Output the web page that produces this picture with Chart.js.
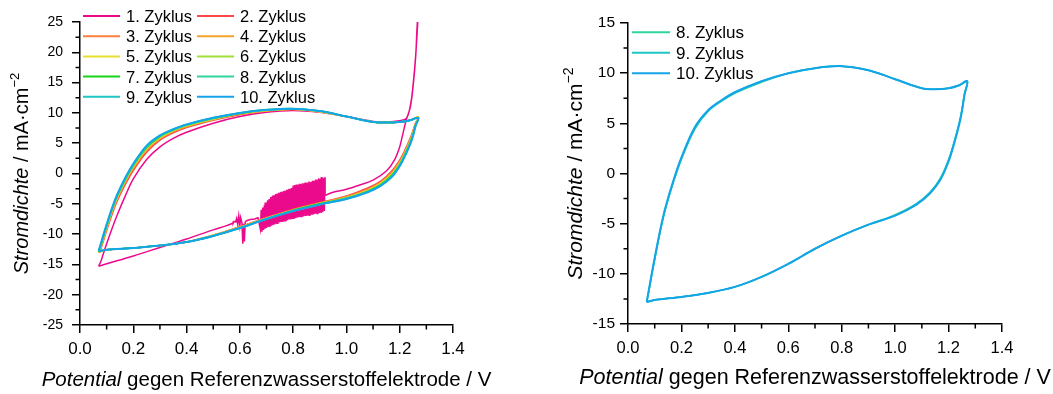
<!DOCTYPE html>
<html>
<head>
<meta charset="utf-8">
<script src="https://cdn.jsdelivr.net/npm/chart.js@4.4.0/dist/chart.umd.min.js"></script>
<style>
body{margin:0;background:#fff;}
#wrap{position:relative;width:1053px;height:394px;overflow:hidden;}
#c1{position:absolute;left:0;top:0;}
#c2{position:absolute;left:533px;top:0;}
</style>
</head>
<body>
<div id="wrap">
<canvas id="c1" width="520" height="394"></canvas>
<canvas id="c2" width="520" height="394"></canvas>
</div>
<script>
// potential sweep (V vs. RHE): forward 0.07 -> 1.27, back to 0.07
const potential = [0.07,0.08,0.09,0.10,0.12,0.14,0.17,0.20,0.25,0.30,0.35,0.40,0.50,0.60,0.70,0.80,0.90,1.00,1.10,1.15,1.20,1.24,1.27,
                   1.26,1.25,1.24,1.22,1.20,1.17,1.13,1.08,1.00,0.90,0.80,0.70,0.60,0.50,0.40,0.30,0.20,0.10,0.07];

// current density (mA/cm2) per cycle
const j2  = [-13.0,-12.2,-10.8,-9.4,-6.8,-4.5,-1.8,0.5,3.5,5.5,6.7,7.6,8.8,9.7,10.3,10.5,10.2,9.4,8.5,8.4,8.5,8.8,9.3,
             8.4,7.1,5.9,3.9,2.2,0.4,-1.2,-2.4,-3.7,-4.8,-5.9,-7.3,-8.8,-10.2,-11.3,-11.9,-12.3,-12.6,-13.0];
const j3  = [-13.0,-12.0,-10.6,-9.2,-6.5,-4.2,-1.5,0.8,3.8,5.7,6.9,7.7,8.9,9.8,10.3,10.6,10.2,9.4,8.5,8.4,8.5,8.8,9.3,
             8.3,6.9,5.7,3.7,2.0,0.2,-1.4,-2.6,-3.8,-4.9,-6.0,-7.3,-8.8,-10.2,-11.3,-11.9,-12.3,-12.6,-13.0];
const j4  = [-12.9,-11.9,-10.4,-9.0,-6.3,-4.0,-1.3,1.0,4.0,5.8,7.0,7.8,8.9,9.8,10.4,10.6,10.2,9.4,8.5,8.4,8.5,8.8,9.3,
             8.2,6.8,5.5,3.5,1.8,0.0,-1.5,-2.7,-3.9,-4.9,-6.0,-7.4,-8.9,-10.2,-11.3,-11.9,-12.3,-12.6,-12.9];
const j5  = [-12.9,-11.8,-10.3,-8.9,-6.2,-3.9,-1.2,1.1,4.1,5.9,7.1,7.9,9.0,9.9,10.4,10.6,10.2,9.4,8.5,8.4,8.5,8.8,9.3,
             8.1,6.7,5.4,3.4,1.7,-0.1,-1.6,-2.8,-4.0,-5.0,-6.1,-7.4,-8.9,-10.2,-11.3,-11.9,-12.3,-12.6,-12.9];
const j6  = [-12.9,-11.7,-10.2,-8.8,-6.1,-3.8,-1.1,1.2,4.2,6.0,7.1,7.9,9.0,9.9,10.4,10.6,10.3,9.4,8.5,8.4,8.5,8.8,9.2,
             8.1,6.6,5.3,3.3,1.6,-0.2,-1.7,-2.9,-4.0,-5.0,-6.1,-7.4,-8.9,-10.3,-11.3,-11.9,-12.3,-12.6,-12.9];
const j7  = [-12.9,-11.6,-10.1,-8.7,-6.0,-3.7,-1.0,1.3,4.3,6.1,7.2,8.0,9.1,9.9,10.5,10.7,10.3,9.4,8.5,8.4,8.5,8.8,9.2,
             8.0,6.5,5.2,3.2,1.5,-0.3,-1.8,-2.9,-4.1,-5.0,-6.1,-7.5,-9.0,-10.3,-11.3,-11.9,-12.3,-12.6,-12.9];
const j8  = [-12.8,-11.5,-10.0,-8.6,-5.9,-3.6,-0.9,1.4,4.4,6.2,7.2,8.0,9.1,10.0,10.5,10.7,10.3,9.4,8.5,8.4,8.5,8.8,9.2,
             8.0,6.4,5.1,3.1,1.4,-0.4,-1.9,-3.0,-4.1,-5.1,-6.2,-7.5,-9.0,-10.3,-11.3,-11.9,-12.3,-12.6,-12.8];
const j9  = [-12.8,-11.4,-9.9,-8.5,-5.8,-3.5,-0.8,1.5,4.5,6.2,7.3,8.1,9.2,10.0,10.5,10.7,10.3,9.4,8.5,8.4,8.5,8.8,9.2,
             7.9,6.3,5.0,3.0,1.3,-0.5,-1.9,-3.0,-4.2,-5.1,-6.2,-7.5,-9.0,-10.3,-11.3,-11.9,-12.3,-12.6,-12.8];
const j10 = [-12.8,-11.3,-9.8,-8.4,-5.7,-3.4,-0.7,1.6,4.6,6.3,7.3,8.1,9.2,10.0,10.5,10.7,10.3,9.4,8.5,8.4,8.5,8.8,9.2,
             7.9,6.2,4.9,2.9,1.2,-0.6,-2.0,-3.1,-4.2,-5.1,-6.2,-7.5,-9.0,-10.3,-11.3,-11.9,-12.3,-12.6,-12.8];

// first cycle has its own sweep (oxygen evolution at the top, noisy part on the way back)
const potential1 = [0.07,0.08,0.09,0.10,0.12,0.14,0.17,0.20,0.25,0.30,0.35,0.40,0.50,0.60,0.70,0.80,0.90,1.00,1.10,1.15,1.20,1.225,1.24,1.25,1.26,1.27,
                    1.265,1.26,1.25,1.24,1.225,1.21,1.20,1.18,1.15,1.10,1.05,1.00,0.95,0.92,null,0.575,0.55,0.50,0.40,0.30,0.20,0.10,0.07];
const j1 = [-15.3,-14.3,-12.9,-11.6,-9.1,-6.8,-3.7,-0.9,2.3,4.4,5.8,6.8,8.3,9.4,10.1,10.4,10.1,9.4,8.6,8.5,8.7,9.1,11.2,14.5,19.5,27,
            24,19.3,14.3,11.0,8.9,6.2,4.4,2.2,0.4,-1.1,-1.9,-2.6,-3.1,-3.6,null,-8.2,-8.6,-9.3,-10.8,-12.2,-13.6,-14.9,-15.3];
const potentialNoise = [0.920,
  0.920,0.917,0.914,0.911,0.908,0.905,0.902,0.899,0.896,0.893,0.890,0.887,0.884,0.881,0.878,0.875,0.872,0.869,0.866,0.863,
  0.860,0.857,0.854,0.851,0.848,0.845,0.842,0.839,0.836,0.833,0.830,0.827,0.824,0.821,0.818,0.815,0.812,0.809,0.806,0.803,
  0.800,0.797,0.794,0.791,0.788,0.785,0.782,0.779,0.776,0.773,0.770,0.767,0.764,0.761,0.758,0.755,0.752,0.749,0.746,0.743,
  0.740,0.737,0.734,0.731,0.728,0.725,0.722,0.719,0.716,0.713,0.710,0.707,0.704,0.701,0.698,0.695,0.692,0.689,0.686,0.683,
  0.680,0.677,
  0.668,0.655,0.640,0.625,0.620,0.617,0.614,0.611,0.608,0.603,0.600,0.596,0.592,0.588,0.584,0.578,0.575];
const jNoise = [-3.6,
  -0.6,-6.2,-0.7,-6.4,-0.6,-6.5,-0.9,-6.5,-0.8,-6.6,-1.0,-6.6,-1.0,-6.7,-1.2,-6.8,-1.2,-6.8,-1.4,-6.9,
  -1.3,-6.9,-1.5,-7.0,-1.5,-7.0,-1.6,-7.1,-1.6,-7.1,-1.7,-7.2,-1.7,-7.2,-1.8,-7.3,-1.8,-7.4,-1.9,-7.4,
  -2.0,-7.5,-2.4,-7.6,-2.5,-7.6,-2.6,-7.7,-2.7,-7.8,-2.8,-7.9,-2.9,-8.0,-3.0,-8.0,-3.1,-8.1,-3.2,-8.2,
  -3.3,-8.3,-3.4,-8.4,-3.6,-8.5,-3.7,-8.6,-3.9,-8.7,-4.2,-8.8,-4.4,-9.0,-4.8,-9.1,-5.2,-9.3,-5.6,-9.5,
  -6.0,-9.2,
  -7.3,-7.5,-7.6,-7.8,-8.0,-11.2,-8.3,-11.6,-8.2,-7.3,-8.6,-7.0,-8.4,-7.4,-8.0,-7.9,-8.2];

const cycleLabels = ['1. Zyklus','2. Zyklus','3. Zyklus','4. Zyklus','5. Zyklus','6. Zyklus','7. Zyklus','8. Zyklus','9. Zyklus','10. Zyklus'];
const cycleColors = ['#ec0a8c','#ff4646','#ff7f3a','#f2a52a','#e6df2e','#a2e03a','#1ad41a','#2ed69c','#1ec6c6','#14a5e8'];

const FONT = '"Liberation Sans", Arial, Helvetica, sans-serif';
Chart.defaults.font.family = FONT;
Chart.defaults.color = '#000';

function pts(xs, ys) {
  return xs.map((x, i) => ({x: x, y: ys[i]}));
}

function cycleSet(n, xs, ys, extra) {
  return Object.assign({
    label: cycleLabels[n-1],
    data: pts(xs, ys),
    showLine: true,
    borderColor: cycleColors[n-1],
    backgroundColor: cycleColors[n-1],
    borderWidth: n == 10 ? 2 : 1.5,
    pointRadius: 0,
    tension: 0.35,
    spanGaps: false,
    order: 11 - n
  }, extra || {});
}

function drawParts(ctx, parts, cx, cy, rot) {
  ctx.save();
  ctx.translate(cx, cy);
  ctx.rotate(rot);
  let w = 0;
  parts.forEach(p => { ctx.font = p.font; p.w = ctx.measureText(p.t).width; w += p.w; });
  let x = -w / 2;
  ctx.fillStyle = '#000';
  ctx.textBaseline = 'alphabetic';
  parts.forEach(p => { ctx.font = p.font; ctx.fillText(p.t, x, p.dy || 0); x += p.w; });
  ctx.restore();
}

const cvDecor = {
  id: 'cvDecor',
  afterDraw(chart, args, o) {
    const ctx = chart.ctx, a = chart.chartArea;
    const xs = chart.scales.x, ys = chart.scales.y;
    ctx.save();
    // minor ticks
    ctx.strokeStyle = '#000';
    ctx.lineWidth = 1.5;
    ctx.beginPath();
    for (let v = xs.min + 0.1; v < xs.max; v += 0.2) {
      const p = xs.getPixelForValue(v);
      ctx.moveTo(p, a.bottom); ctx.lineTo(p, a.bottom + 4.5);
    }
    for (let v = ys.min + 2.5; v < ys.max; v += 5) {
      const p = ys.getPixelForValue(v);
      ctx.moveTo(a.left - 4.5, p); ctx.lineTo(a.left, p);
    }
    ctx.stroke();

    // axis titles
    const xf = o.xTitleSize + 'px ' + FONT, yf = o.yTitleSize + 'px ' + FONT;
    drawParts(ctx, [
      {t: 'Potential', font: 'italic ' + xf},
      {t: ' gegen Referenzwasserstoffelektrode / V', font: xf}
    ], (a.left + a.right) / 2, o.xTitleY, 0);
    drawParts(ctx, [
      {t: 'Stromdichte', font: 'italic ' + yf},
      {t: ' / mA\u00b7cm', font: yf},
      {t: '\u22122', font: Math.round(o.yTitleSize * 0.65) + 'px ' + FONT, dy: -o.yTitleSize * 0.45}
    ], o.yTitleX, (a.top + a.bottom) / 2, -Math.PI / 2);

    // legend
    const L = o.legend;
    ctx.font = L.size + 'px ' + FONT;
    ctx.textBaseline = 'middle';
    L.items.forEach((n, i) => {
      const c = i % L.cols, r = Math.floor(i / L.cols);
      const x = L.x + c * L.colW, y = L.y + r * L.rowH;
      ctx.strokeStyle = cycleColors[n-1];
      ctx.lineWidth = 2;
      ctx.beginPath(); ctx.moveTo(x, y); ctx.lineTo(x + L.len, y); ctx.stroke();
      ctx.fillStyle = '#000';
      ctx.fillText(cycleLabels[n-1], x + L.textDx, y + 1.5);
    });
    ctx.restore();
  }
};

function scaleOpts(yMin, yMax, yW, xH, yFont, xFont, yPad, xPad) {
  const grid = {drawOnChartArea: false, drawTicks: true, color: '#000', tickLength: 8, lineWidth: 1.5};
  const border = {display: true, color: '#000', width: 1.5};
  return {
    x: {
      type: 'linear', min: 0, max: 1.4,
      ticks: {stepSize: 0.2, color: '#000', font: {size: xFont}, padding: xPad,
              callback: v => v.toFixed(1)},
      grid: grid, border: border,
      afterFit: s => { s.height = xH; }
    },
    y: {
      type: 'linear', min: yMin, max: yMax,
      ticks: {stepSize: 5, color: '#000', font: {size: yFont}, padding: yPad},
      grid: grid, border: border,
      afterFit: s => { s.width = yW; }
    }
  };
}

// left panel: all ten cycles
new Chart(document.getElementById('c1'), {
  type: 'scatter',
  data: {
    datasets: [
      cycleSet(1, potential1, j1),
      cycleSet(1, potentialNoise, jNoise, {tension: 0, borderWidth: 1.5}),
      cycleSet(2, potential, j2),
      cycleSet(3, potential, j3),
      cycleSet(4, potential, j4),
      cycleSet(5, potential, j5),
      cycleSet(6, potential, j6),
      cycleSet(7, potential, j7),
      cycleSet(8, potential, j8),
      cycleSet(9, potential, j9),
      cycleSet(10, potential, j10)
    ]
  },
  options: {
    responsive: false,
    animation: false,
    layout: {padding: {left: 0, top: 22, right: 67, bottom: 0}},
    scales: scaleOpts(-25, 25, 80, 69, 14, 17, 9, 6),
    plugins: {
      legend: {display: false},
      tooltip: {enabled: false},
      cvDecor: {
        xTitleY: 386, xTitleSize: 20.5, yTitleX: 28, yTitleSize: 20,
        legend: {items: [1,2,3,4,5,6,7,8,9,10], cols: 2, x: 83, y: 16, colW: 114, rowH: 20.2, len: 37, textDx: 43, size: 16.5}
      }
    }
  },
  plugins: [cvDecor]
});

// right panel: last three cycles
new Chart(document.getElementById('c2'), {
  type: 'scatter',
  data: {
    datasets: [
      cycleSet(8, potential, j8),
      cycleSet(9, potential, j9),
      cycleSet(10, potential, j10)
    ]
  },
  options: {
    responsive: false,
    animation: false,
    layout: {padding: {left: 0, top: 23, right: 51, bottom: 0}},
    scales: scaleOpts(-15, 15, 95, 70, 15.5, 16.5, 5, 7),
    plugins: {
      legend: {display: false},
      tooltip: {enabled: false},
      cvDecor: {
        xTitleY: 384, xTitleSize: 21.5, yTitleX: 49, yTitleSize: 21,
        legend: {items: [8,9,10], cols: 1, x: 99, y: 32.3, colW: 0, rowH: 20.5, len: 38, textDx: 44, size: 17}
      }
    }
  },
  plugins: [cvDecor]
});
</script>
</body>
</html>
